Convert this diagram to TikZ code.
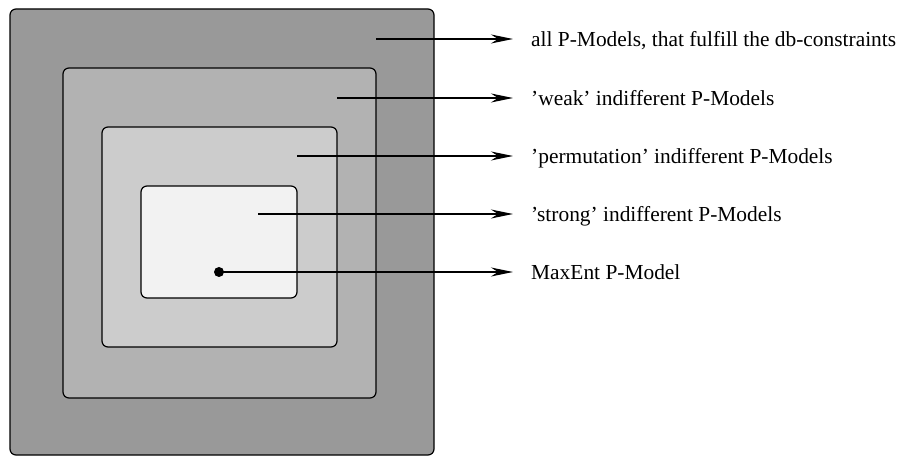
\documentclass[tikz,border=0pt]{standalone}
\usepackage{xcolor}
\usepackage{fontspec}
\setmainfont{Liberation Serif}
\usepackage{tikz}
\usetikzlibrary{arrows.meta}

\definecolor{grayA}{gray}{0.60}
\definecolor{grayB}{gray}{0.70}
\definecolor{grayC}{gray}{0.80}
\definecolor{grayD}{gray}{0.95}

\tikzset{
	menge/.style={draw=black, line width=1.2bp, rounded corners=6bp},
	pfeil/.style={line width=1.4bp, -{Stealth[length=22bp, width=9bp, inset=7bp]}},
	beschriftung/.style={anchor=base west, inner sep=0pt, font=\fontsize{21.4bp}{24bp}\selectfont}
}

\begin{document}
\begin{tikzpicture}[x=1bp, y=-1bp]
	\useasboundingbox (0,0) rectangle (901,456);
	% Mengen
	\draw[
		menge,
		fill=grayA
	] (10,9) rectangle (434,455);
	\draw[
		menge,
		fill=grayB
	] (63,68) rectangle (376,398);
	\draw[
		menge,
		fill=grayC
	] (102,127) rectangle (337,347);
	\draw[
		menge,
		fill=grayD
	] (141,186) rectangle (297,298);
	% Startpunkte
	\coordinate (alle) at (376,39);
	\coordinate (schwach) at (337,98);
	\coordinate (perm) at (297,156);
	\coordinate (stark) at (258,214);
	\coordinate (maxent) at (219,272);
	\fill (maxent) circle (5bp);
	% Beschriftungen
	\node[beschriftung] (alleT) at (531,47) {all P-Models, that fulfill the db-constraints};
	\node[beschriftung] (schwachT) at (531,106) {’weak’ indifferent P-Models};
	\node[beschriftung] (permT) at (531,164) {’permutation’ indifferent P-Models};
	\node[beschriftung] (starkT) at (531,222) {’strong’ indifferent P-Models};
	\node[beschriftung] (maxentT) at (531,280) {MaxEnt P-Model};
	% Pfeile
	\draw[pfeil] (alle) -- (alle -| 513,0);
	\draw[pfeil] (schwach) -- (schwach -| 513,0);
	\draw[pfeil] (perm) -- (perm -| 513,0);
	\draw[pfeil] (stark) -- (stark -| 513,0);
	\draw[pfeil] (maxent) -- (maxent -| 513,0);
\end{tikzpicture}
\end{document}
